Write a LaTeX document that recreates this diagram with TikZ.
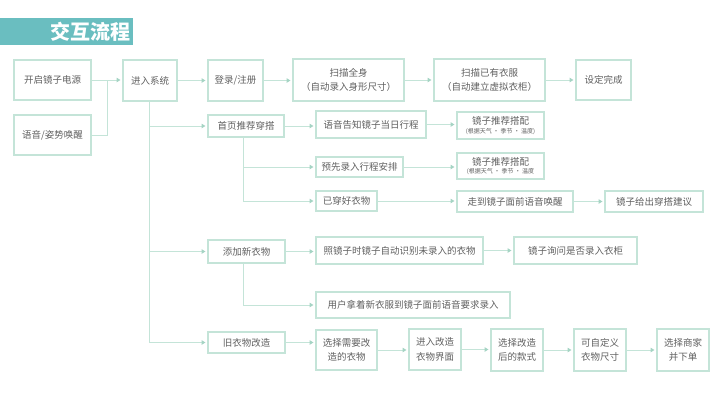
\documentclass[tikz,border=0pt]{standalone}
\usepackage{fontspec}
\setmainfont{Noto Sans CJK SC}
\usetikzlibrary{arrows.meta}
\definecolor{boxc}{RGB}{196,228,216}
\definecolor{linec}{RGB}{196,228,216}
\definecolor{tipc}{RGB}{165,212,196}
\definecolor{txtc}{RGB}{95,95,95}
\definecolor{titlec}{RGB}{106,190,192}
\tikzset{
 boxst/.style={draw=boxc,line width=1.2pt,inner sep=0pt,outer sep=0pt,align=center,text=txtc,font=\fontsize{9.5}{14.5}\selectfont},
 thickbox/.style={line width=2.2pt},
 ln/.style={draw=linec,line width=1pt},
 arr/.style={ln,-{Triangle[length=4pt,width=4.5pt,color=tipc]},shorten >=2.5pt},
}
\newcommand\smalltx[1]{{\fontsize{6}{7}\selectfont #1}}
\newcommand\mybox[7][]{\node[boxst,#1,minimum width={(#5-#3)*1pt},minimum height={(#6-#4)*1pt}] (#2) at ({(#3+#5)/2},{(#4+#6)/2}) {#7};}
\begin{document}
\begin{tikzpicture}[x=1pt,y=-1pt]
\useasboundingbox (0,0) rectangle (720,405);
% title
\fill[titlec] (0,18) rectangle (133,45);
\node[anchor=east,text=white,font=\fontsize{20}{22}\selectfont\bfseries,inner sep=0pt] (title) at (131,32) {交互流程};
% boxes
\mybox{kq}{14}{60}{91}{100}{开启镜子电源}
\mybox{yy}{14}{115}{91}{155}{语音/姿势唤醒}
\mybox{jr}{123}{60}{177}{101}{进入系统}
\mybox{dl}{208}{60}{263}{101}{登录/注册}
\mybox[thickbox]{sm}{293}{59}{404}{101}{扫描全身\\（自动录入身形尺寸）}
\mybox[thickbox]{sy}{434}{59}{545}{101}{扫描已有衣服\\（自动建立虚拟衣柜）}
\mybox{sd}{576}{60}{631}{100}{设定完成}
\mybox{sy1}{208}{115}{284}{137}{首页推荐穿搭}
\mybox{gz}{316}{111}{426}{138}{语音告知镜子当日行程}
\mybox{tja}{457}{112}{544}{139}{镜子推荐搭配\\[-6pt]\smalltx{(根据天气 · 季节 · 温度)}}
\mybox{yx}{316}{157}{403}{177}{预先录入行程安排}
\mybox{tjb}{457}{153}{544}{179}{镜子推荐搭配\\[-6pt]\smalltx{(根据天气 · 季节 · 温度}}
\mybox{ych}{316}{191}{377}{211}{已穿好衣物}
\mybox{zd}{457}{191}{573}{212}{走到镜子面前语音唤醒}
\mybox{gc}{605}{191}{703}{212}{镜子给出穿搭建议}
\mybox{tj}{208}{240}{285}{263}{添加新衣物}
\mybox{zj}{316}{237}{483}{264}{照镜子时镜子自动识别未录入的衣物}
\mybox{xw}{514}{237}{637}{264}{镜子询问是否录入衣柜}
\mybox{yh}{316}{292}{510}{318}{用户拿着新衣服到镜子面前语音要求录入}
\mybox{jy}{208}{332}{285}{353}{旧衣物改造}
\mybox{ba}{316}{330}{377}{370}{选择需要改\\造的衣物}
\mybox{bb}{409}{329}{461}{370}{进入改造\\衣物界面}
\mybox{bc}{491}{329}{543}{371}{选择改造\\后的款式}
\mybox{bd}{574}{329}{626}{371}{可自定义\\衣物尺寸}
\mybox{be}{657}{329}{709}{371}{选择商家\\并下单}
% connectors
\coordinate (j1) at (107,80);
\draw[arr] (kq.east) -- (kq.east -| jr.west);
\draw[ln] (yy.east) -| (j1);
\draw[arr] (jr.east) -- (jr.east -| dl.west);
\draw[arr] (dl.east) -- (dl.east -| sm.west);
\draw[arr] (sm.east) -- (sm.east -| sy.west);
\draw[arr] (sy.east) -- (sy.east -| sd.west);
\coordinate (v1) at (149,101);
\draw[ln] (v1) -- (v1 |- jy.west);
\draw[arr] (v1 |- sy1.west) -- (sy1.west);
\draw[arr] (v1 |- tj.west) -- (tj.west);
\draw[arr] (v1 |- jy.west) -- (jy.west);
\draw[arr] (sy1.east) -- (sy1.east -| gz.west);
\draw[arr] (gz.east) -- (gz.east -| tja.west);
\coordinate (v2) at (243,137);
\draw[ln] (v2) -- (v2 |- ych.west);
\draw[arr] (v2 |- yx.west) -- (yx.west);
\draw[arr] (v2 |- ych.west) -- (ych.west);
\draw[arr] (yx.east) -- (yx.east -| tjb.west);
\draw[arr] (ych.east) -- (ych.east -| zd.west);
\draw[arr] (zd.east) -- (zd.east -| gc.west);
\draw[arr] (tj.east) -- (tj.east -| zj.west);
\draw[arr] (zj.east) -- (zj.east -| xw.west);
\coordinate (v3) at (243,263);
\draw[ln] (v3) -- (v3 |- yh.west);
\draw[arr] (v3 |- yh.west) -- (yh.west);
\draw[arr] (jy.east) -- (jy.east -| ba.west);
\draw[arr] (ba.east) -- (ba.east -| bb.west);
\draw[arr] (bb.east) -- (bb.east -| bc.west);
\draw[arr] (bc.east) -- (bc.east -| bd.west);
\draw[arr] (bd.east) -- (bd.east -| be.west);
\end{tikzpicture}
\end{document}
